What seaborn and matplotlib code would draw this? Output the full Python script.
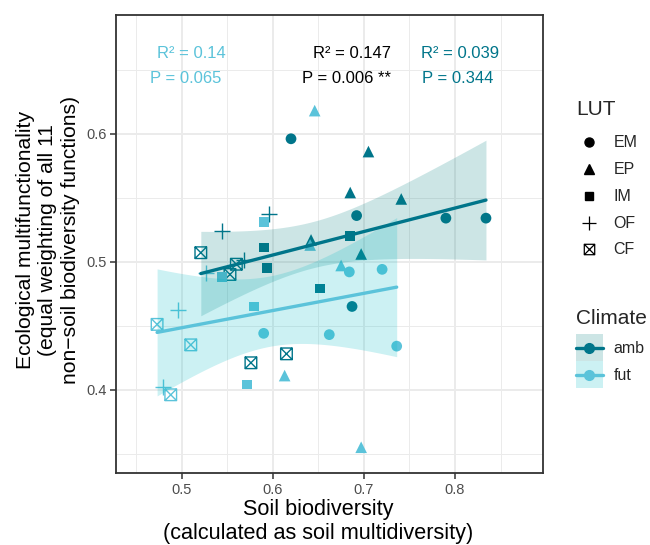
import numpy as np
import pandas as pd
import matplotlib
matplotlib.use("Agg")
import matplotlib.pyplot as plt
import seaborn as sns
from matplotlib.path import Path
from matplotlib.lines import Line2D
from matplotlib.patches import Patch
from matplotlib.legend_handler import HandlerTuple, HandlerLine2D
from matplotlib.ticker import FormatStrFormatter

# ---------------- data ----------------
soil_biodiversity = [
    # amb
    0.620, 0.692, 0.790, 0.834, 0.687,          # EM
    0.705, 0.685, 0.741, 0.642, 0.697,          # EP
    0.685, 0.590, 0.594, 0.652,                 # IM
    0.596, 0.544, 0.568,                        # OF
    0.521, 0.560, 0.553, 0.615, 0.576,          # CF
    # fut
    0.590, 0.684, 0.720, 0.662, 0.736,          # EM
    0.646, 0.641, 0.675, 0.613, 0.697,          # EP
    0.590, 0.544, 0.579, 0.572,                 # IM
    0.527, 0.496, 0.480,                        # OF
    0.473, 0.510, 0.488,                        # CF
]
eco_multifunctionality = [
    0.596, 0.536, 0.534, 0.534, 0.465,
    0.586, 0.554, 0.549, 0.517, 0.506,
    0.520, 0.511, 0.495, 0.479,
    0.537, 0.524, 0.501,
    0.507, 0.498, 0.490, 0.428, 0.421,
    0.444, 0.492, 0.494, 0.443, 0.434,
    0.618, 0.513, 0.497, 0.411, 0.355,
    0.531, 0.488, 0.465, 0.404,
    0.491, 0.462, 0.402,
    0.451, 0.435, 0.396,
]
lut = (["EM"] * 5 + ["EP"] * 5 + ["IM"] * 4 + ["OF"] * 3 + ["CF"] * 5 +
       ["EM"] * 5 + ["EP"] * 5 + ["IM"] * 4 + ["OF"] * 3 + ["CF"] * 3)
climate = ["amb"] * 22 + ["fut"] * 20

lut_levels = ["EM", "EP", "IM", "OF", "CF"]
climate_levels = ["amb", "fut"]

annot_fut = ["R² = 0.14", "P = 0.065"]
annot_all = ["R² = 0.147", "P = 0.006 **"]
annot_amb = ["R² = 0.039", "P = 0.344"]

# two-sided 95 % t quantiles by residual degrees of freedom
t975 = {18: 2.101, 19: 2.093, 20: 2.086, 21: 2.080, 22: 2.074}

df = pd.DataFrame({"soil": soil_biodiversity, "emf": eco_multifunctionality,
                   "LUT": lut, "Climate": climate})

# ---------------- style ----------------
sns.set_style("white")
plt.rcParams["font.family"] = ["Liberation Sans", "DejaVu Sans"]

line_col = {"amb": "#00758A", "fut": "#5BC3DA"}
fill_col = {"amb": "#008080", "fut": "#00B9C3"}

verts = [(-1, -1), (1, -1), (1, 1), (-1, 1), (-1, -1),
         (-1, -1), (1, 1), (-1, 1), (1, -1)]
codes = [Path.MOVETO, Path.LINETO, Path.LINETO, Path.LINETO, Path.CLOSEPOLY,
         Path.MOVETO, Path.LINETO, Path.MOVETO, Path.LINETO]
cf_marker = Path(verts, codes)

marker_spec = {
    "EM": dict(marker="o", s=60),
    "EP": dict(marker="^", s=70),
    "IM": dict(marker="s", s=50),
    "OF": dict(marker="+", s=140, linewidths=1.0),
    "CF": dict(marker=cf_marker, s=70, linewidths=1.0),
}

fig = plt.figure(figsize=(6.5, 5.45), dpi=100)
ax = fig.add_axes([116 / 650, 1 - 473 / 545, (543 - 116) / 650, (473 - 15) / 545])

# points
for clim in climate_levels:
    for l in lut_levels:
        sub = df[(df.Climate == clim) & (df.LUT == l)]
        kw = dict(marker_spec[l])
        c = line_col[clim]
        if l == "CF":
            sns.scatterplot(data=sub, x="soil", y="emf", color=c, facecolors="none",
                            edgecolor=c, ax=ax, legend=False, zorder=3, **kw)
        elif l == "OF":
            sns.scatterplot(data=sub, x="soil", y="emf", color=c, ax=ax,
                            legend=False, zorder=3, **kw)
        else:
            sns.scatterplot(data=sub, x="soil", y="emf", color=c, edgecolor="none",
                            ax=ax, legend=False, zorder=3, **kw)

# regression lines (seaborn) with analytic 95 % confidence ribbons (as lm smooth)
for clim in climate_levels:
    sub = df[df.Climate == clim]
    x = sub.soil.to_numpy()
    y = sub.emf.to_numpy()
    n = len(x)
    b1, b0 = np.polyfit(x, y, 1)
    resid = y - (b0 + b1 * x)
    s = np.sqrt(np.sum(resid ** 2) / (n - 2))
    sxx = np.sum((x - x.mean()) ** 2)
    grid = np.linspace(x.min(), x.max(), 100)
    se = s * np.sqrt(1 / n + (grid - x.mean()) ** 2 / sxx)
    fit = b0 + b1 * grid
    ax.fill_between(grid, fit - t975[n - 2] * se, fit + t975[n - 2] * se,
                    color=fill_col[clim], alpha=0.2, lw=0, zorder=4)
    sns.regplot(data=sub, x="soil", y="emf", scatter=False, ci=None,
                color=line_col[clim], truncate=True, ax=ax,
                line_kws=dict(lw=2.4, zorder=5))

ax.set_xlim(0.4279, 0.8966)
ax.set_ylim(0.3349, 0.6927)
ax.set_xticks([0.5, 0.6, 0.7, 0.8])
ax.set_xticks([0.45, 0.55, 0.65, 0.75, 0.85], minor=True)
ax.set_yticks([0.4, 0.5, 0.6])
ax.set_yticks([0.35, 0.45, 0.55, 0.65], minor=True)
ax.xaxis.set_major_formatter(FormatStrFormatter("%.1f"))
ax.yaxis.set_major_formatter(FormatStrFormatter("%.1f"))
ax.grid(True, which="major", color="#EBEBEB", lw=1.4)
ax.grid(True, which="minor", color="#EBEBEB", lw=0.7)
ax.set_axisbelow(True)
ax.tick_params(which="major", length=4, width=1.1, color="#333333",
               labelsize=10.5, labelcolor="#4D4D4D", bottom=True, left=True, pad=3)
ax.tick_params(which="minor", length=0)
for sp in ax.spines.values():
    sp.set_color("#333333")
    sp.set_linewidth(1.3)

ax.set_xlabel("Soil biodiversity\n(calculated as soil multidiversity)",
              fontsize=15.6, linespacing=1.16, color="black")
ax.set_ylabel("Ecological multifunctionality\n(equal weighting of all 11\nnon\u2212soil biodiversity functions)",
              fontsize=15.2, linespacing=1.23, color="black")
ax.xaxis.set_label_coords(0.473, -0.0575)
ax.yaxis.set_label_coords(-0.085, 0.5087)

# annotations
ax.text(0.511, 0.6592, annot_fut[0], color=line_col["fut"], fontsize=12, ha="center", va="baseline")
ax.text(0.5047, 0.6394, annot_fut[1], color=line_col["fut"], fontsize=12, ha="center", va="baseline")
ax.text(0.7297, 0.6592, annot_all[0], color="black", fontsize=12, ha="right", va="baseline")
ax.text(0.7297, 0.6394, annot_all[1], color="black", fontsize=12, ha="right", va="baseline")
ax.text(0.7627, 0.6592, annot_amb[0], color=line_col["amb"], fontsize=12, ha="left", va="baseline")
ax.text(0.7640, 0.6394, annot_amb[1], color=line_col["amb"], fontsize=12, ha="left", va="baseline")


# legends
class CenteredLine(HandlerLine2D):
    def create_artists(self, legend, orig_handle, xdescent, ydescent, width,
                       height, fontsize, trans):
        arts = super().create_artists(legend, orig_handle, xdescent, ydescent,
                                      width, height, fontsize, trans)
        yc = height / 2 - ydescent
        for a in arts:
            a.set_ydata(np.full(len(a.get_xdata()), yc))
        return arts


lut_handles = [
    Line2D([], [], ls="none", marker="o", color="black", markersize=6.5),
    Line2D([], [], ls="none", marker="^", color="black", markersize=7.5),
    Line2D([], [], ls="none", marker="s", color="black", markersize=6.0),
    Line2D([], [], ls="none", marker="+", color="black", markersize=10, markeredgewidth=0.9),
    Line2D([], [], ls="none", marker=cf_marker, markerfacecolor="none",
           markeredgecolor="black", markersize=7.5, markeredgewidth=0.9),
]
common = dict(frameon=False, fontsize=11.5, title_fontsize=15, alignment="left",
              handlelength=1.69, handleheight=2.22, labelspacing=0, handletextpad=0.65,
              borderpad=0, borderaxespad=0, bbox_transform=fig.transFigure, loc="upper left")
leg1 = ax.legend(handles=lut_handles, labels=lut_levels, title="LUT",
                 handler_map={Line2D: CenteredLine()},
                 bbox_to_anchor=(576 / 650, 1 - 100 / 545), **common)
leg1._legend_box.sep = 6.6
ax.add_artist(leg1)

clim_handles = [
    (Patch(facecolor=fill_col[c], alpha=0.2, edgecolor="none"),
     Line2D([], [], color=line_col[c], lw=2.4, marker="o", markersize=7))
    for c in climate_levels
]
leg2 = ax.legend(handles=clim_handles, labels=climate_levels, title="Climate",
                 handler_map={tuple: HandlerTuple(ndivide=1, pad=0), Line2D: CenteredLine()},
                 bbox_to_anchor=(576 / 650, 1 - 309 / 545), **common)
leg2._legend_box.sep = 4.6

fig.savefig("out.png", dpi=100)
